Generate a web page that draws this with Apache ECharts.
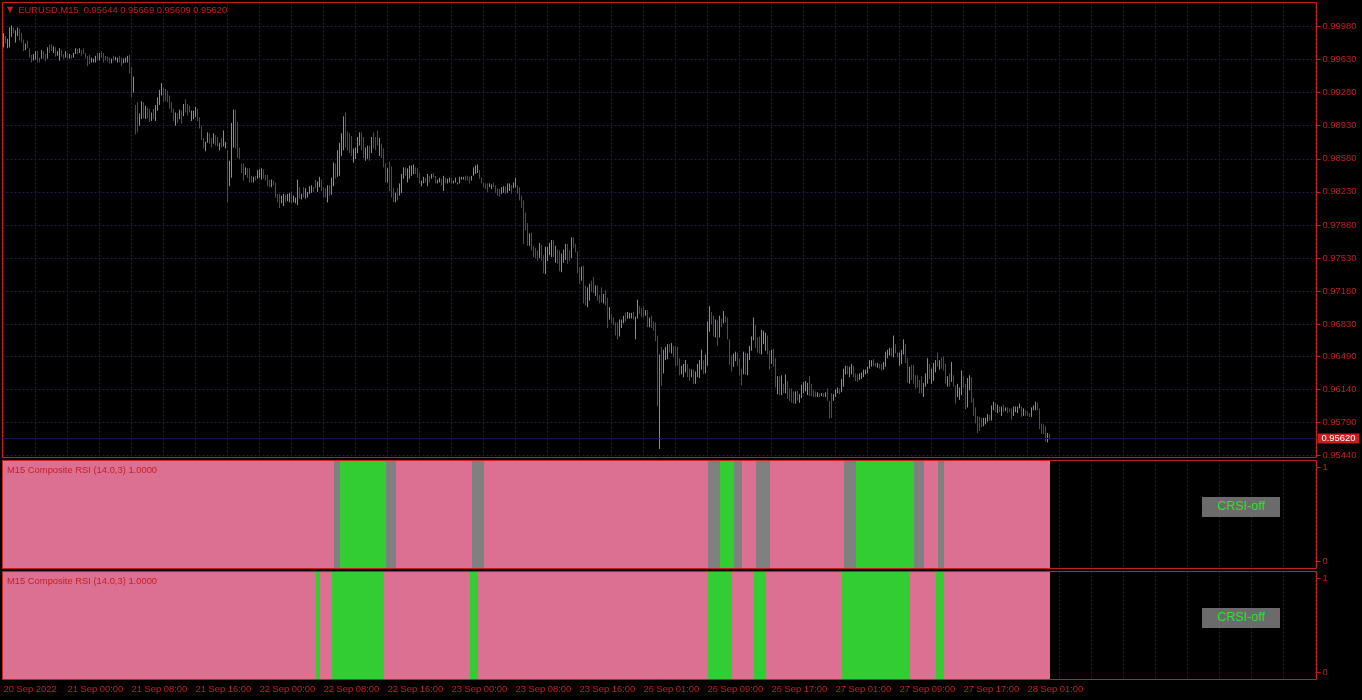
<!DOCTYPE html>
<html>
<head>
<meta charset="utf-8">
<script src="https://cdn.jsdelivr.net/npm/echarts@6/dist/echarts.min.js"></script>
<style>
html,body{margin:0;padding:0;background:#000;}
#chart{width:1362px;height:700px;}
</style>
</head>
<body>
<div id="chart"></div>
<script>
// ---------------- data ----------------
const symbolName = 'EURUSD,M15';
const indicatorName = 'M15 Composite RSI (14.0,3) 1.0000';
const buttonText = 'CRSI-off';

const timeTickLabels = ['20 Sep 2022','21 Sep 00:00','21 Sep 08:00','21 Sep 16:00','22 Sep 00:00','22 Sep 08:00','22 Sep 16:00','23 Sep 00:00','23 Sep 08:00','23 Sep 16:00','26 Sep 01:00','26 Sep 09:00','26 Sep 17:00','27 Sep 01:00','27 Sep 09:00','27 Sep 17:00','28 Sep 01:00'];
const priceTickValues = [0.95440,0.95790,0.96140,0.96490,0.96830,0.97180,0.97530,0.97880,0.98230,0.98580,0.98930,0.99280,0.99630,0.99980];
const indicatorTickValues = [0, 1];

const opens = [
0.9980,0.9986,0.9977,0.9981,0.9990,0.9995,0.9984,0.9990,0.9993,0.9989,0.9981,0.9975,0.9981,0.9972,0.9966,0.9964,0.9965,0.9969,0.9964,0.9966,
0.9970,0.9967,0.9967,0.9977,0.9977,0.9972,0.9974,0.9968,0.9965,0.9971,0.9968,0.9967,0.9968,0.9965,0.9967,0.9966,0.9971,0.9973,0.9971,0.9971,
0.9973,0.9969,0.9964,0.9966,0.9961,0.9961,0.9962,0.9968,0.9964,0.9970,0.9968,0.9966,0.9965,0.9964,0.9960,0.9966,0.9963,0.9961,0.9965,0.9963,
0.9960,0.9961,0.9962,0.9965,0.9947,0.9932,0.9908,0.9910,0.9896,0.9905,0.9914,0.9903,0.9909,0.9908,0.9900,0.9908,0.9902,0.9912,0.9919,0.9928,
0.9929,0.9929,0.9927,0.9922,0.9915,0.9908,0.9896,0.9904,0.9902,0.9906,0.9906,0.9918,0.9913,0.9912,0.9901,0.9902,0.9905,0.9908,0.9899,0.9889,
0.9877,0.9868,0.9878,0.9882,0.9877,0.9877,0.9880,0.9878,0.9869,0.9877,0.9875,0.9871,0.9854,0.9836,0.9852,0.9880,0.9900,0.9888,0.9867,0.9851,
0.9849,0.9843,0.9846,0.9844,0.9838,0.9834,0.9839,0.9839,0.9840,0.9839,0.9845,0.9840,0.9838,0.9834,0.9830,0.9834,0.9829,0.9819,0.9817,0.9813,
0.9811,0.9818,0.9815,0.9814,0.9820,0.9814,0.9812,0.9815,0.9825,0.9816,0.9825,0.9819,0.9818,0.9823,0.9824,0.9827,0.9834,0.9826,0.9831,0.9833,
0.9825,0.9824,0.9816,0.9827,0.9824,0.9835,0.9849,0.9846,0.9849,0.9867,0.9876,0.9898,0.9882,0.9880,0.9877,0.9858,0.9861,0.9868,0.9876,0.9881,
0.9875,0.9859,0.9862,0.9868,0.9868,0.9882,0.9877,0.9884,0.9866,0.9870,0.9864,0.9848,0.9837,0.9847,0.9842,0.9823,0.9814,0.9824,0.9822,0.9827,
0.9840,0.9847,0.9837,0.9840,0.9843,0.9844,0.9847,0.9846,0.9840,0.9830,0.9834,0.9837,0.9832,0.9838,0.9838,0.9842,0.9838,0.9833,0.9834,0.9835,
0.9828,0.9836,0.9833,0.9834,0.9836,0.9833,0.9834,0.9831,0.9833,0.9836,0.9837,0.9839,0.9838,0.9837,0.9836,0.9841,0.9844,0.9845,0.9844,0.9837,
0.9832,0.9831,0.9830,0.9829,0.9827,0.9832,0.9828,0.9825,0.9824,0.9822,0.9824,0.9827,0.9825,0.9826,0.9828,0.9828,0.9830,0.9827,0.9825,0.9816,
0.9803,0.9796,0.9784,0.9769,0.9775,0.9763,0.9761,0.9758,0.9757,0.9763,0.9751,0.9743,0.9754,0.9759,0.9758,0.9767,0.9753,0.9758,0.9756,0.9743,
0.9752,0.9755,0.9763,0.9758,0.9758,0.9772,0.9766,0.9754,0.9739,0.9733,0.9735,0.9719,0.9706,0.9712,0.9726,0.9729,0.9716,0.9720,0.9712,0.9718,
0.9707,0.9715,0.9703,0.9691,0.9691,0.9688,0.9682,0.9681,0.9674,0.9681,0.9686,0.9693,0.9691,0.9690,0.9691,0.9694,0.9673,0.9694,0.9700,0.9698,
0.9699,0.9693,0.9694,0.9683,0.9689,0.9683,0.9680,0.9653,0.9576,0.9649,0.9637,0.9648,0.9650,0.9660,0.9655,0.9657,0.9655,0.9654,0.9643,0.9632,
0.9631,0.9635,0.9638,0.9633,0.9629,0.9631,0.9623,0.9630,0.9630,0.9640,0.9641,0.9636,0.9651,0.9682,0.9693,0.9687,0.9674,0.9680,0.9675,0.9687,
0.9687,0.9690,0.9684,0.9660,0.9646,0.9642,0.9646,0.9650,0.9643,0.9632,0.9636,0.9647,0.9635,0.9649,0.9659,0.9672,0.9676,0.9665,0.9666,0.9657,
0.9666,0.9660,0.9666,0.9650,0.9645,0.9652,0.9639,0.9614,0.9623,0.9613,0.9618,0.9615,0.9618,0.9612,0.9611,0.9609,0.9602,0.9610,0.9602,0.9609,
0.9613,0.9615,0.9611,0.9623,0.9617,0.9612,0.9610,0.9607,0.9609,0.9608,0.9609,0.9607,0.9612,0.9597,0.9604,0.9604,0.9608,0.9611,0.9614,0.9614,
0.9621,0.9632,0.9637,0.9630,0.9633,0.9636,0.9629,0.9628,0.9626,0.9627,0.9629,0.9631,0.9633,0.9638,0.9640,0.9644,0.9641,0.9638,0.9640,0.9639,
0.9637,0.9642,0.9649,0.9652,0.9656,0.9653,0.9660,0.9652,0.9642,0.9645,0.9655,0.9657,0.9641,0.9624,0.9636,0.9635,0.9626,0.9626,0.9621,0.9624,
0.9610,0.9620,0.9627,0.9637,0.9624,0.9628,0.9635,0.9649,0.9637,0.9645,0.9645,0.9636,0.9620,0.9628,0.9627,0.9626,0.9613,0.9609,0.9606,0.9614,
0.9625,0.9614,0.9603,0.9617,0.9620,0.9600,0.9591,0.9582,0.9581,0.9582,0.9577,0.9579,0.9582,0.9586,0.9585,0.9594,0.9598,0.9591,0.9594,0.9588,
0.9596,0.9592,0.9594,0.9593,0.9591,0.9588,0.9591,0.9591,0.9595,0.9593,0.9588,0.9591,0.9590,0.9588,0.9587,0.9593,0.9594,0.9598,0.9589,0.9575,
0.9575,0.9571,0.9560,0.95644];

const highs = [
0.9991,0.9988,0.9985,0.9997,0.9999,0.9997,0.9994,0.9997,0.9996,0.9991,0.9984,0.9980,0.9983,0.9975,0.9968,0.9969,0.9972,0.9972,0.9965,0.9973,
0.9972,0.9969,0.9976,0.9979,0.9979,0.9977,0.9976,0.9972,0.9975,0.9973,0.9969,0.9972,0.9970,0.9969,0.9968,0.9970,0.9975,0.9974,0.9975,0.9973,
0.9975,0.9970,0.9967,0.9968,0.9965,0.9964,0.9967,0.9970,0.9970,0.9972,0.9970,0.9967,0.9966,0.9965,0.9964,0.9967,0.9966,0.9965,0.9967,0.9965,
0.9964,0.9965,0.9967,0.9968,0.9955,0.9945,0.9915,0.9918,0.9906,0.9919,0.9918,0.9914,0.9912,0.9911,0.9907,0.9911,0.9915,0.9923,0.9931,0.9938,
0.9933,0.9932,0.9930,0.9925,0.9918,0.9911,0.9907,0.9906,0.9910,0.9909,0.9916,0.9921,0.9916,0.9914,0.9909,0.9909,0.9913,0.9911,0.9902,0.9893,
0.9880,0.9876,0.9886,0.9885,0.9880,0.9885,0.9883,0.9881,0.9875,0.9880,0.9888,0.9876,0.9867,0.9856,0.9896,0.9910,0.9910,0.9897,0.9870,0.9853,
0.9853,0.9849,0.9848,0.9848,0.9840,0.9839,0.9840,0.9846,0.9847,0.9848,0.9847,0.9841,0.9841,0.9836,0.9836,0.9835,0.9833,0.9821,0.9821,0.9819,
0.9821,0.9820,0.9821,0.9822,0.9823,0.9819,0.9817,0.9836,0.9828,0.9821,0.9828,0.9827,0.9823,0.9829,0.9830,0.9828,0.9836,0.9834,0.9839,0.9836,
0.9828,0.9827,0.9830,0.9830,0.9838,0.9854,0.9853,0.9867,0.9875,0.9885,0.9903,0.9907,0.9887,0.9885,0.9882,0.9869,0.9870,0.9881,0.9886,0.9886,
0.9881,0.9870,0.9872,0.9872,0.9881,0.9886,0.9881,0.9888,0.9880,0.9874,0.9869,0.9853,0.9848,0.9855,0.9850,0.9827,0.9822,0.9827,0.9832,0.9842,
0.9849,0.9849,0.9848,0.9851,0.9851,0.9852,0.9849,0.9848,0.9843,0.9835,0.9839,0.9838,0.9842,0.9840,0.9842,0.9843,0.9840,0.9836,0.9838,0.9837,
0.9840,0.9838,0.9837,0.9838,0.9838,0.9835,0.9838,0.9833,0.9839,0.9839,0.9839,0.9840,0.9840,0.9839,0.9840,0.9849,0.9851,0.9852,0.9846,0.9838,
0.9833,0.9832,0.9832,0.9832,0.9831,0.9833,0.9830,0.9827,0.9826,0.9828,0.9829,0.9829,0.9832,0.9832,0.9830,0.9833,0.9838,0.9830,0.9828,0.9819,
0.9814,0.9801,0.9790,0.9779,0.9780,0.9766,0.9764,0.9761,0.9769,0.9767,0.9756,0.9765,0.9765,0.9769,0.9772,0.9772,0.9766,0.9762,0.9761,0.9758,
0.9762,0.9768,0.9768,0.9761,0.9775,0.9775,0.9768,0.9760,0.9743,0.9744,0.9745,0.9724,0.9722,0.9726,0.9729,0.9733,0.9724,0.9724,0.9714,0.9722,
0.9715,0.9719,0.9711,0.9701,0.9694,0.9690,0.9685,0.9685,0.9688,0.9688,0.9692,0.9695,0.9696,0.9695,0.9695,0.9696,0.9691,0.9709,0.9702,0.9700,
0.9702,0.9698,0.9698,0.9690,0.9692,0.9686,0.9685,0.9671,0.9651,0.9659,0.9656,0.9659,0.9662,0.9662,0.9663,0.9660,0.9660,0.9659,0.9647,0.9639,
0.9641,0.9645,0.9641,0.9636,0.9635,0.9635,0.9633,0.9641,0.9645,0.9656,0.9645,0.9651,0.9686,0.9702,0.9696,0.9692,0.9688,0.9687,0.9692,0.9689,
0.9697,0.9692,0.9690,0.9667,0.9650,0.9652,0.9654,0.9653,0.9647,0.9636,0.9654,0.9653,0.9652,0.9660,0.9670,0.9690,0.9682,0.9669,0.9670,0.9677,
0.9676,0.9674,0.9671,0.9655,0.9656,0.9657,0.9647,0.9628,0.9628,0.9629,0.9620,0.9630,0.9623,0.9615,0.9615,0.9612,0.9612,0.9613,0.9609,0.9619,
0.9622,0.9623,0.9621,0.9628,0.9620,0.9614,0.9612,0.9611,0.9610,0.9610,0.9610,0.9611,0.9615,0.9602,0.9610,0.9609,0.9614,0.9616,0.9615,0.9625,
0.9636,0.9639,0.9639,0.9638,0.9641,0.9639,0.9631,0.9630,0.9631,0.9632,0.9635,0.9635,0.9638,0.9645,0.9645,0.9646,0.9642,0.9642,0.9641,0.9641,
0.9643,0.9654,0.9656,0.9658,0.9658,0.9671,0.9662,0.9653,0.9653,0.9656,0.9667,0.9662,0.9647,0.9638,0.9640,0.9640,0.9629,0.9629,0.9624,0.9628,
0.9621,0.9631,0.9647,0.9641,0.9636,0.9642,0.9645,0.9653,0.9645,0.9648,0.9649,0.9641,0.9628,0.9631,0.9643,0.9629,0.9618,0.9620,0.9616,0.9634,
0.9628,0.9620,0.9626,0.9629,0.9627,0.9605,0.9595,0.9586,0.9585,0.9584,0.9584,0.9584,0.9588,0.9587,0.9597,0.9601,0.9600,0.9598,0.9596,0.9596,
0.9598,0.9595,0.9595,0.9594,0.9594,0.9596,0.9596,0.9596,0.9599,0.9596,0.9594,0.9592,0.9591,0.9589,0.9595,0.9597,0.9601,0.9600,0.9594,0.9578,
0.9577,0.9575,0.9568,0.95669];

const lows = [
0.9976,0.9980,0.9975,0.9976,0.9987,0.9991,0.9981,0.9988,0.9983,0.9981,0.9972,0.9973,0.9975,0.9965,0.9960,0.9962,0.9963,0.9960,0.9960,0.9964,
0.9964,0.9961,0.9964,0.9970,0.9972,0.9970,0.9966,0.9967,0.9962,0.9966,0.9964,0.9965,0.9964,0.9964,0.9964,0.9965,0.9969,0.9969,0.9970,0.9967,
0.9969,0.9964,0.9956,0.9958,0.9960,0.9960,0.9960,0.9962,0.9962,0.9965,0.9960,0.9962,0.9961,0.9959,0.9959,0.9962,0.9962,0.9960,0.9960,0.9956,
0.9959,0.9960,0.9960,0.9948,0.9923,0.9928,0.9884,0.9886,0.9893,0.9900,0.9901,0.9900,0.9901,0.9897,0.9898,0.9900,0.9898,0.9909,0.9915,0.9925,
0.9918,0.9919,0.9918,0.9911,0.9907,0.9898,0.9893,0.9896,0.9900,0.9895,0.9903,0.9907,0.9904,0.9907,0.9898,0.9900,0.9902,0.9898,0.9890,0.9878,
0.9869,0.9866,0.9875,0.9874,0.9870,0.9874,0.9872,0.9871,0.9867,0.9870,0.9871,0.9869,0.9812,0.9829,0.9838,0.9870,0.9869,0.9859,0.9858,0.9843,
0.9835,0.9841,0.9838,0.9833,0.9833,0.9833,0.9835,0.9837,0.9838,0.9836,0.9837,0.9835,0.9829,0.9828,0.9828,0.9830,0.9817,0.9812,0.9806,0.9811,
0.9808,0.9812,0.9813,0.9812,0.9811,0.9812,0.9811,0.9809,0.9816,0.9815,0.9817,0.9816,0.9817,0.9821,0.9822,0.9823,0.9827,0.9823,0.9828,0.9824,
0.9817,0.9817,0.9812,0.9819,0.9820,0.9829,0.9837,0.9839,0.9840,0.9861,0.9867,0.9870,0.9867,0.9864,0.9861,0.9854,0.9858,0.9864,0.9872,0.9867,
0.9859,0.9856,0.9858,0.9856,0.9864,0.9869,0.9867,0.9872,0.9861,0.9859,0.9849,0.9833,0.9833,0.9824,0.9817,0.9812,0.9812,0.9814,0.9819,0.9822,
0.9837,0.9840,0.9833,0.9837,0.9840,0.9842,0.9842,0.9838,0.9832,0.9829,0.9832,0.9833,0.9829,0.9833,0.9837,0.9838,0.9832,0.9832,0.9833,0.9830,
0.9824,0.9832,0.9832,0.9833,0.9832,0.9832,0.9833,0.9831,0.9832,0.9836,0.9836,0.9835,0.9835,0.9832,0.9835,0.9840,0.9842,0.9843,0.9837,0.9832,
0.9828,0.9826,0.9823,0.9828,0.9826,0.9828,0.9822,0.9819,0.9818,0.9821,0.9822,0.9821,0.9822,0.9824,0.9821,0.9827,0.9828,0.9821,0.9814,0.9806,
0.9768,0.9782,0.9766,0.9766,0.9761,0.9754,0.9753,0.9750,0.9753,0.9750,0.9737,0.9736,0.9750,0.9756,0.9754,0.9754,0.9748,0.9747,0.9739,0.9738,
0.9748,0.9751,0.9747,0.9750,0.9753,0.9764,0.9759,0.9737,0.9726,0.9729,0.9705,0.9703,0.9701,0.9708,0.9717,0.9716,0.9713,0.9708,0.9705,0.9706,
0.9705,0.9703,0.9679,0.9688,0.9684,0.9682,0.9671,0.9667,0.9670,0.9679,0.9684,0.9686,0.9689,0.9689,0.9689,0.9688,0.9667,0.9689,0.9694,0.9691,
0.9690,0.9692,0.9680,0.9680,0.9679,0.9676,0.9665,0.9596,0.9551,0.9618,0.9631,0.9645,0.9646,0.9653,0.9652,0.9648,0.9639,0.9639,0.9629,0.9630,
0.9627,0.9632,0.9627,0.9623,0.9627,0.9620,0.9620,0.9627,0.9626,0.9635,0.9630,0.9631,0.9639,0.9675,0.9683,0.9670,0.9669,0.9660,0.9669,0.9680,
0.9684,0.9685,0.9667,0.9640,0.9633,0.9638,0.9644,0.9639,0.9629,0.9618,0.9630,0.9630,0.9629,0.9645,0.9655,0.9666,0.9658,0.9653,0.9652,0.9651,
0.9662,0.9655,0.9651,0.9635,0.9641,0.9638,0.9616,0.9609,0.9608,0.9608,0.9610,0.9610,0.9604,0.9602,0.9600,0.9599,0.9599,0.9602,0.9600,0.9605,
0.9610,0.9612,0.9608,0.9607,0.9607,0.9606,0.9606,0.9606,0.9606,0.9607,0.9606,0.9606,0.9602,0.9583,0.9584,0.9602,0.9606,0.9610,0.9609,0.9611,
0.9617,0.9630,0.9630,0.9627,0.9630,0.9627,0.9623,0.9622,0.9624,0.9625,0.9627,0.9630,0.9631,0.9636,0.9638,0.9639,0.9638,0.9637,0.9636,0.9634,
0.9635,0.9638,0.9647,0.9650,0.9649,0.9648,0.9652,0.9648,0.9639,0.9641,0.9651,0.9642,0.9621,0.9620,0.9624,0.9620,0.9615,0.9616,0.9610,0.9610,
0.9606,0.9617,0.9620,0.9625,0.9620,0.9623,0.9632,0.9638,0.9635,0.9636,0.9634,0.9620,0.9617,0.9617,0.9622,0.9617,0.9599,0.9606,0.9603,0.9608,
0.9616,0.9593,0.9595,0.9613,0.9600,0.9586,0.9578,0.9568,0.9570,0.9574,0.9575,0.9577,0.9580,0.9581,0.9581,0.9592,0.9590,0.9589,0.9590,0.9586,
0.9590,0.9591,0.9589,0.9590,0.9582,0.9586,0.9590,0.9589,0.9594,0.9585,0.9586,0.9586,0.9586,0.9585,0.9585,0.9592,0.9592,0.9592,0.9572,0.9567,
0.9567,0.9559,0.9558,0.95609];

const closes = [
0.9987,0.9982,0.9983,0.9992,0.9996,0.9992,0.9991,0.9995,0.9986,0.9983,0.9975,0.9978,0.9977,0.9967,0.9962,0.9967,0.9970,0.9963,0.9961,0.9971,
0.9966,0.9963,0.9973,0.9972,0.9974,0.9975,0.9968,0.9971,0.9972,0.9968,0.9965,0.9970,0.9966,0.9968,0.9965,0.9969,0.9973,0.9970,0.9974,0.9969,
0.9971,0.9966,0.9959,0.9960,0.9964,0.9963,0.9965,0.9964,0.9968,0.9967,0.9962,0.9963,0.9962,0.9960,0.9963,0.9963,0.9965,0.9964,0.9962,0.9958,
0.9963,0.9964,0.9966,0.9951,0.9931,0.9941,0.9892,0.9894,0.9903,0.9914,0.9905,0.9911,0.9904,0.9901,0.9905,0.9903,0.9911,0.9920,0.9927,0.9935,
0.9922,0.9922,0.9921,0.9914,0.9909,0.9901,0.9904,0.9898,0.9907,0.9898,0.9913,0.9910,0.9907,0.9909,0.9906,0.9907,0.9910,0.9901,0.9893,0.9882,
0.9872,0.9873,0.9883,0.9877,0.9872,0.9882,0.9875,0.9873,0.9873,0.9872,0.9884,0.9874,0.9825,0.9849,0.9882,0.9900,0.9879,0.9868,0.9861,0.9846,
0.9839,0.9847,0.9841,0.9837,0.9835,0.9838,0.9836,0.9844,0.9845,0.9845,0.9839,0.9836,0.9832,0.9830,0.9834,0.9831,0.9821,0.9814,0.9810,0.9817,
0.9818,0.9814,0.9819,0.9820,0.9814,0.9817,0.9816,0.9830,0.9819,0.9820,0.9820,0.9824,0.9822,0.9827,0.9828,0.9824,0.9829,0.9831,0.9836,0.9827,
0.9820,0.9819,0.9826,0.9822,0.9834,0.9848,0.9841,0.9860,0.9866,0.9879,0.9894,0.9879,0.9872,0.9869,0.9866,0.9865,0.9867,0.9877,0.9883,0.9872,
0.9865,0.9867,0.9868,0.9860,0.9877,0.9873,0.9871,0.9876,0.9875,0.9863,0.9854,0.9838,0.9844,0.9832,0.9825,0.9816,0.9820,0.9817,0.9829,0.9837,
0.9846,0.9842,0.9844,0.9848,0.9848,0.9850,0.9844,0.9840,0.9835,0.9833,0.9837,0.9834,0.9839,0.9835,0.9841,0.9839,0.9834,0.9835,0.9837,0.9832,
0.9836,0.9834,0.9836,0.9837,0.9834,0.9834,0.9837,0.9833,0.9837,0.9838,0.9839,0.9836,0.9836,0.9833,0.9839,0.9847,0.9849,0.9850,0.9839,0.9833,
0.9829,0.9827,0.9825,0.9831,0.9830,0.9829,0.9824,0.9821,0.9820,0.9826,0.9827,0.9823,0.9830,0.9830,0.9823,0.9831,0.9835,0.9823,0.9817,0.9809,
0.9779,0.9787,0.9772,0.9776,0.9766,0.9757,0.9756,0.9753,0.9765,0.9754,0.9742,0.9758,0.9761,0.9766,0.9767,0.9758,0.9762,0.9751,0.9744,0.9753,
0.9759,0.9764,0.9752,0.9753,0.9770,0.9767,0.9761,0.9743,0.9730,0.9740,0.9715,0.9708,0.9717,0.9722,0.9720,0.9720,0.9721,0.9712,0.9707,0.9710,
0.9712,0.9707,0.9687,0.9698,0.9686,0.9684,0.9674,0.9671,0.9684,0.9686,0.9690,0.9688,0.9694,0.9694,0.9694,0.9690,0.9685,0.9704,0.9696,0.9693,
0.9693,0.9697,0.9685,0.9688,0.9682,0.9679,0.9670,0.9614,0.9626,0.9628,0.9650,0.9656,0.9658,0.9655,0.9660,0.9651,0.9644,0.9644,0.9633,0.9637,
0.9638,0.9642,0.9631,0.9626,0.9633,0.9624,0.9630,0.9638,0.9640,0.9651,0.9634,0.9646,0.9675,0.9695,0.9686,0.9675,0.9683,0.9667,0.9686,0.9682,
0.9694,0.9687,0.9673,0.9647,0.9637,0.9648,0.9651,0.9642,0.9633,0.9622,0.9648,0.9636,0.9646,0.9657,0.9666,0.9684,0.9664,0.9657,0.9656,0.9671,
0.9673,0.9669,0.9656,0.9640,0.9652,0.9643,0.9624,0.9623,0.9613,0.9624,0.9613,0.9625,0.9609,0.9605,0.9604,0.9602,0.9609,0.9605,0.9607,0.9616,
0.9619,0.9620,0.9618,0.9612,0.9610,0.9608,0.9607,0.9610,0.9607,0.9609,0.9607,0.9610,0.9605,0.9588,0.9590,0.9607,0.9612,0.9615,0.9610,0.9621,
0.9632,0.9637,0.9632,0.9635,0.9638,0.9630,0.9625,0.9624,0.9629,0.9630,0.9633,0.9634,0.9636,0.9643,0.9643,0.9641,0.9639,0.9641,0.9637,0.9636,
0.9641,0.9650,0.9654,0.9656,0.9651,0.9665,0.9654,0.9649,0.9649,0.9652,0.9663,0.9647,0.9627,0.9634,0.9628,0.9625,0.9618,0.9619,0.9613,0.9614,
0.9617,0.9628,0.9640,0.9629,0.9632,0.9637,0.9642,0.9642,0.9643,0.9639,0.9638,0.9625,0.9625,0.9620,0.9638,0.9620,0.9604,0.9617,0.9613,0.9628,
0.9619,0.9600,0.9618,0.9625,0.9607,0.9591,0.9582,0.9572,0.9574,0.9576,0.9582,0.9582,0.9586,0.9582,0.9593,0.9599,0.9592,0.9596,0.9591,0.9594,
0.9592,0.9594,0.9590,0.9591,0.9585,0.9594,0.9595,0.9594,0.9598,0.9588,0.9592,0.9587,0.9587,0.9586,0.9593,0.9596,0.9599,0.9594,0.9577,0.9570,
0.9570,0.9563,0.9564,0.95620];

// Composite RSI state per run: [state, number of bars]; 0 = bearish, 1 = bullish, 2 = neutral
const crsiUpperRuns = [[0,166],[2,3],[1,23],[2,5],[0,38],[2,6],[0,112],[2,6],[1,7],[2,4],[0,7],[2,7],[0,37],[2,6],[1,29],[2,5],[0,7],[2,3],[0,53]];
const crsiLowerRuns = [[0,157],[1,2],[0,6],[1,26],[0,43],[1,4],[0,115],[1,12],[0,11],[1,6],[0,38],[1,34],[0,13],[1,4],[0,53]];

// ---------------- style ----------------
const FONT = 'Liberation Sans, Arial, sans-serif';
const RED = '#c81e1e';
const GRID = '#1c1c50';
const BIDLINE = '#15154a';
const UP = '#32cd32';
const DOWN = '#d21414';
const STATE_COLORS = ['#db7093', '#32cd32', '#808080'];
const SLOTS = 657; // bar slots across the chart width (includes the right-side shift)

const N = opens.length;
const lastIdx = N - 1;
const categories = Array.from({length: SLOTS}, (_, i) => String(i));
const barData = opens.map((o, i) => [i, o, closes[i], lows[i], highs[i]]);
function runsToItems(runs) {
  const items = []; let start = 0;
  runs.forEach(([state, count]) => { items.push([start, start + count - 1, state]); start += count; });
  return items;
}
const snap = (v) => Math.floor(v + 1e-6);

const chart = echarts.init(document.getElementById('chart'), null, {renderer: 'canvas'});

function xAxisFor(g) {
  return {
    type: 'category', gridIndex: g, data: categories, boundaryGap: true,
    axisLine: {show: false},
    axisTick: {show: g === 2, alignWithLabel: true, length: 4, interval: (i) => i % 32 === 0 && i < N, lineStyle: {color: RED}},
    axisLabel: {show: g === 2, interval: (i) => i % 32 === 0 && i < N, align: 'left', margin: 5,
      formatter: (v) => timeTickLabels[Number(v) / 32] || '', color: RED, fontSize: 9.4, fontFamily: FONT},
    splitLine: {show: true, alignWithLabel: true, interval: (i) => i % 16 === 0, lineStyle: {color: GRID, type: [2, 2], width: 1}}
  };
}
function subYAxis(g) {
  return {
    type: 'value', gridIndex: g, position: 'right', min: -0.075, max: 1.076,
    axisLine: {show: false}, splitLine: {show: false},
    axisTick: {show: true, length: 4, customValues: indicatorTickValues, lineStyle: {color: RED}},
    axisLabel: {customValues: indicatorTickValues, margin: 6, color: RED, fontSize: 9.4, fontFamily: FONT, formatter: (v) => String(v)}
  };
}
function bandSeries(g, runs) {
  return {
    type: 'custom', xAxisIndex: g, yAxisIndex: g, z: 2, silent: true,
    data: runsToItems(runs),
    encode: {x: [0, 1], y: 2},
    renderItem: (params, api) => {
      const a = api.coord([api.value(0), 0]);
      const b = api.coord([api.value(1), 0]);
      const w = api.size([1, 0])[0];
      const cs = params.coordSys;
      const x0 = snap(a[0] - w / 2), x1 = snap(b[0] + w / 2);
      return {type: 'rect', shape: {x: x0, y: cs.y, width: x1 - x0, height: cs.height},
        style: {fill: STATE_COLORS[api.value(2)]}};
    }
  };
}
function button(top) {
  return {type: 'group', left: 1202, top: top, children: [
    {type: 'rect', z: 20, shape: {x: 0, y: 0, width: 78, height: 20}, style: {fill: '#6b6b6b'}},
    {type: 'text', z: 21, x: 39, y: 10, style: {text: buttonText, fill: '#2ee62e', font: '12.5px ' + FONT, textAlign: 'center', textVerticalAlign: 'middle'}}
  ]};
}

const ohlcText = [opens[lastIdx], highs[lastIdx], lows[lastIdx], closes[lastIdx]].map(v => v.toFixed(5)).join(' ');

const option = {
  backgroundColor: '#000000',
  animation: false,
  title: {
    left: 7, top: 5.5, padding: 0,
    text: '{t|▼}{s|' + symbolName + '}  ' + ohlcText,
    textStyle: {color: RED, fontSize: 9.4, fontWeight: 'normal', fontFamily: FONT,
      rich: {t: {fontSize: 8, fontFamily: 'DejaVu Sans', color: RED, padding: [0, 5, 0, 0]},
             s: {fontSize: 9.4, fontFamily: FONT, color: RED}}}
  },
  grid: [
    {left: 2.5, top: 2.5, width: 1314, height: 455, show: true, borderColor: RED, borderWidth: 1, backgroundColor: 'transparent', z: 5},
    {left: 2.5, top: 460.5, width: 1314, height: 108, show: true, borderColor: RED, borderWidth: 1, backgroundColor: 'transparent', z: 5},
    {left: 2.5, top: 571.5, width: 1314, height: 108, show: true, borderColor: RED, borderWidth: 1, backgroundColor: 'transparent', z: 5}
  ],
  xAxis: [xAxisFor(0), xAxisFor(1), xAxisFor(2)],
  yAxis: [
    {type: 'value', gridIndex: 0, position: 'right', min: 0.95420, max: 1.00234,
      axisLine: {show: false},
      axisTick: {show: true, length: 4, customValues: priceTickValues, lineStyle: {color: RED}},
      axisLabel: {customValues: priceTickValues, margin: 6, color: RED, fontSize: 9.4, fontFamily: FONT, formatter: (v) => v.toFixed(5)},
      splitLine: {show: true, lineStyle: {color: GRID, type: [2, 2], width: 1}}},
    subYAxis(1), subYAxis(2)
  ],
  series: [
    {
      type: 'custom', name: symbolName, xAxisIndex: 0, yAxisIndex: 0, z: 3, silent: true,
      data: barData,
      encode: {x: 0, y: [1, 2, 3, 4]},
      renderItem: (params, api) => {
        const i = api.value(0);
        const top = api.coord([i, api.value(4)]);
        const bot = api.coord([i, api.value(3)]);
        const up = api.value(2) >= api.value(1);
        return {type: 'line', shape: {x1: top[0], y1: top[1], x2: bot[0], y2: bot[1]},
          style: {stroke: up ? UP : DOWN, lineWidth: 1}};
      }
    },
    {
      type: 'line', name: 'bid', xAxisIndex: 0, yAxisIndex: 0, z: 2, silent: true,
      data: [[String(lastIdx), closes[lastIdx]]], symbol: 'none', lineStyle: {opacity: 0},
      markLine: {
        silent: true, symbol: ['none', 'none'], animation: false, precision: 5,
        lineStyle: {color: BIDLINE, type: 'solid', width: 1, opacity: 1},
        label: {show: true, position: 'end', distance: 1, formatter: () => closes[lastIdx].toFixed(5),
          color: '#ffffff', backgroundColor: RED, padding: [1, 4, 0, 4], fontSize: 9.4, fontFamily: FONT},
        data: [{yAxis: closes[lastIdx]}]
      }
    },
    bandSeries(1, crsiUpperRuns),
    bandSeries(2, crsiLowerRuns)
  ],
  graphic: [
    {type: 'text', left: 7, top: 466, z: 20, style: {text: indicatorName, fill: RED, font: '9.4px ' + FONT}},
    {type: 'text', left: 7, top: 577, z: 20, style: {text: indicatorName, fill: RED, font: '9.4px ' + FONT}},
    button(497),
    button(608)
  ]
};
chart.setOption(option);
</script>
</body>
</html>
